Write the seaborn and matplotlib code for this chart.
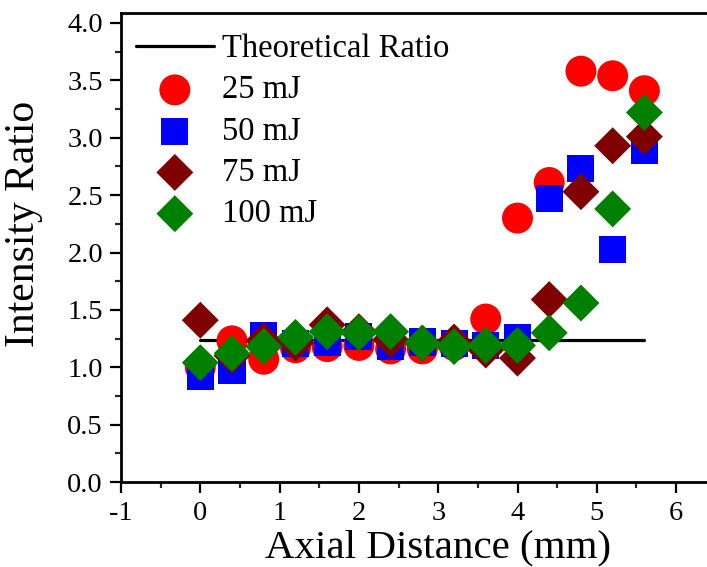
import matplotlib
matplotlib.use("Agg")
import matplotlib.pyplot as plt
import seaborn as sns
import pandas as pd
import numpy as np

# ---- data ----
distance = [0.0, 0.4, 0.8, 1.2, 1.6, 2.0, 2.4, 2.8, 3.2, 3.6, 4.0, 4.4, 4.8, 5.2, 5.6]
ratio_25mJ = [1.00, 1.23, 1.07, 1.17, 1.18, 1.19, 1.16, 1.16, 1.19, 1.42, 2.30, 2.61, 3.58, 3.54, 3.41]
ratio_50mJ = [0.92, 0.97, 1.28, 1.21, 1.22, 1.27, 1.18, 1.22, 1.21, 1.19, 1.26, 2.47, 2.73, 2.03, 2.89]
ratio_75mJ = [1.41, 1.10, 1.23, 1.21, 1.37, 1.31, 1.24, 1.21, 1.22, 1.15, 1.08, 1.59, 2.53, 2.93, 3.01]
ratio_100mJ = [1.04, 1.12, 1.18, 1.26, 1.31, 1.30, 1.31, 1.21, 1.18, 1.19, 1.19, 1.30, 1.56, 2.38, 3.22]
theory_x = [0.0, 5.6]
theory_y = [1.24, 1.24]
series_labels = ["25 mJ", "50 mJ", "75 mJ", "100 mJ"]
x_ticks = [-1, 0, 1, 2, 3, 4, 5, 6]
y_ticks = [0.0, 0.5, 1.0, 1.5, 2.0, 2.5, 3.0, 3.5, 4.0]

sns.set_theme(style="white")
plt.rcParams["font.family"] = ["Liberation Serif", "DejaVu Serif"]

W, H = 707, 567
fig = plt.figure(figsize=(W / 100, H / 100), dpi=100)
ppu_x = 79.3
ppu_y = 114.75
left_px, top_px, bottom_px = 121, 13, 482
right_px = left_px + 8 * ppu_x  # axes continue past the cropped right edge
ax = fig.add_axes([left_px / W, 1 - bottom_px / H, (right_px - left_px) / W, (bottom_px - top_px) / H])

ax.set_xlim(-1, 7)
ax.set_ylim(0, (bottom_px - top_px) / ppu_y)

sns.lineplot(x=theory_x, y=theory_y, ax=ax, color="black", linewidth=2.3,
             label="Theoretical Ratio", zorder=1)

styles = [
    (ratio_25mJ, "#ff0000", "o", 22.3),
    (ratio_50mJ, "#0000ff", "s", 19.5),
    (ratio_75mJ, "#800000", "D", 18.8),
    (ratio_100mJ, "#008000", "D", 18.8),
]
for (vals, col, mk, ms), lab in zip(styles, series_labels):
    df = pd.DataFrame({"x": distance, "y": vals})
    sns.scatterplot(data=df, x="x", y="y", ax=ax, color=col, marker=mk,
                    s=ms ** 2, edgecolor="none", linewidth=0, label=lab, zorder=3)

ax.set_xticks(x_ticks)
ax.set_xticklabels([str(t) for t in x_ticks])
ax.set_yticks(y_ticks)
ax.set_yticklabels([f"{t:.1f}" for t in y_ticks])
ax.set_xticks(np.arange(-0.5, 6.6, 1.0), minor=True)
ax.set_yticks(np.arange(0.25, 4.0, 0.5), minor=True)

ax.tick_params(axis="both", which="major", direction="out", length=8, width=1.6,
               labelsize=20.5, colors="black",
               bottom=True, left=True, top=False, right=False)
ax.tick_params(axis="x", which="major", pad=6)
ax.tick_params(axis="y", which="major", pad=5)
ax.tick_params(axis="both", which="minor", direction="out", length=4.5, width=1.6,
               bottom=True, left=True, top=False, right=False)

for side in ["left", "bottom", "top", "right"]:
    ax.spines[side].set_visible(True)
    ax.spines[side].set_color("black")
    ax.spines[side].set_linewidth(2.0)

ax.set_xlabel("Axial Distance (mm)", fontsize=29.5, color="black", labelpad=2)
ax.set_ylabel("Intensity Ratio", fontsize=30, color="black")
ax.yaxis.set_label_coords((43 - left_px) / (right_px - left_px), (bottom_px - 224) / (bottom_px - top_px))

leg = ax.legend(loc="upper left", bbox_to_anchor=(0.0, 1.0 - 6 / (bottom_px - top_px)),
                frameon=False, fontsize=23.5, handlelength=2.4, handletextpad=0.25,
                labelspacing=0.33, borderaxespad=0.25, borderpad=0.2)
for t in leg.get_texts():
    t.set_color("black")

fig.savefig("out.png", dpi=100)
